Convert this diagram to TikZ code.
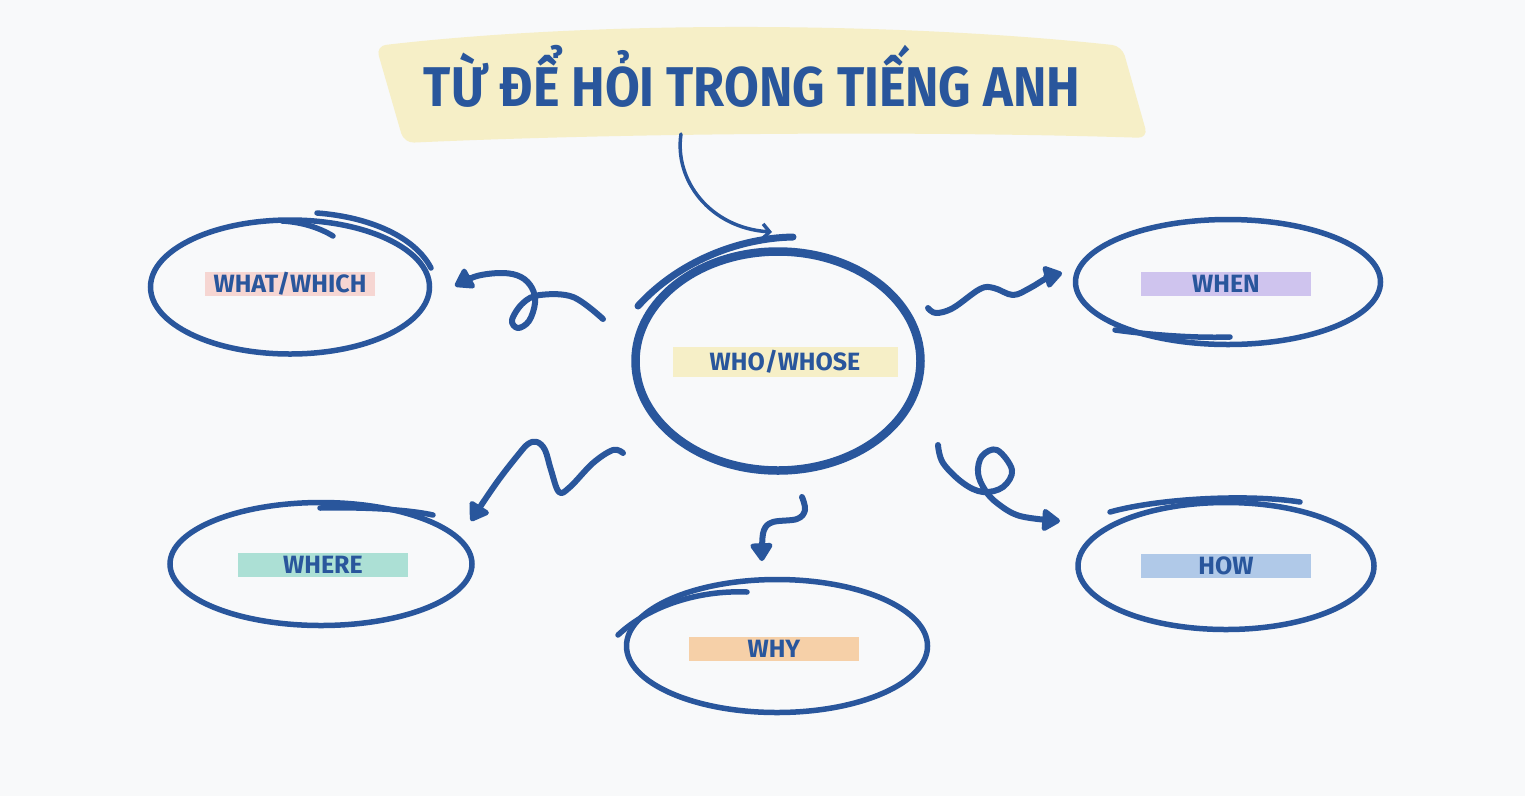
\documentclass[tikz,border=0pt]{standalone}
\usepackage{fontspec}
\usepackage{graphicx}
\setmainfont{Fira Sans}
\usetikzlibrary{shapes.geometric, arrows.meta}
\definecolor{ink}{RGB}{41,86,156}
\definecolor{paper}{RGB}{248,249,250}
\definecolor{bandtitle}{RGB}{246,239,199}
\definecolor{bandwho}{RGB}{246,239,199}
\definecolor{bandwhat}{RGB}{246,214,210}
\definecolor{bandwhere}{RGB}{172,224,213}
\definecolor{bandwhy}{RGB}{246,208,168}
\definecolor{bandwhen}{RGB}{207,196,238}
\definecolor{bandhow}{RGB}{176,201,232}
\tikzset{
  bubble/.style={ellipse, draw=ink, line width=5.5pt, inner sep=0pt},
  tag/.style={font=\bfseries\fontsize{25}{25}\selectfont, text=ink,
    minimum width=170pt, minimum height=24pt, inner sep=0pt},
  extra/.style={draw=ink, line width=5.5pt, line cap=round},
  link/.style={draw=ink, line width=6pt, line cap=round, line join=round,
    -{Triangle[length=20pt, width=25pt, round]}},
}
\begin{document}
\begin{tikzpicture}[x=1pt, y=-1pt]
      \useasboundingbox (0,0) rectangle (1525,796);
      \fill[paper] (0,0) rectangle (1525,796);
      %
      \fill[bandtitle, rounded corners=10pt] (376,46) .. controls (600,20) and (900,22) .. (1122,46)
        -- (1148,138) .. controls (900,130) and (600,134) .. (404,143) -- cycle;   % title band
      \node[anchor=base, font=\bfseries\fontsize{56}{56}\selectfont, text=ink] (title) at (752,106)
        {\scalebox{0.9}[1]{TỪ ĐỂ HỎI TRONG TIẾNG ANH}};
      %
      \node[bubble, line width=8.5pt, minimum width=285pt, minimum height=219pt] (who) at (778,361) {};   % centre
      \node[bubble, minimum width=279pt, minimum height=134pt] (what) at (290,287) {};
      \node[bubble, minimum width=302pt, minimum height=123pt] (where) at (321,564) {};
      \node[bubble, minimum width=301pt, minimum height=133pt] (why) at (777,646) {};
      \node[bubble, minimum width=305pt, minimum height=125pt] (when) at (1228,282) {};
      \node[bubble, minimum width=296pt, minimum height=127pt] (how) at (1226,566) {};
      %
      \draw[extra, line width=7pt] (638,306) .. controls (678,262) and (738,238) .. (793,237);   % second strokes
      \draw[extra] (317,213) .. controls (370,217) and (415,237) .. (431,268);
      \draw[extra] (282,221) .. controls (302,222) and (320,228) .. (333,236);
      \draw[extra] (320,508) .. controls (370,507) and (410,510) .. (433,515);
      \draw[extra] (618,635) .. controls (650,605) and (700,590) .. (747,592);
      \draw[extra] (1115,330) .. controls (1160,336) and (1200,338) .. (1230,337);
      \draw[extra] (1110,512) .. controls (1160,498) and (1250,494) .. (1300,502);
      %
      \node[tag, fill=bandwho, minimum width=225pt, minimum height=30pt] (whotag) at (785,362) {WHO/WHOSE};   % labels
      \node[tag, fill=bandwhat] (whattag) at (290,284) {WHAT/WHICH};
      \node[tag, fill=bandwhere] (wheretag) at (323,565) {WHERE};
      \node[tag, fill=bandwhy] (whytag) at (774,649) {WHY};
      \node[tag, fill=bandwhen] (whentag) at (1226,284) {WHEN};
      \node[tag, fill=bandhow] (howtag) at (1226,566) {HOW};
      %
      \coordinate (title-out) at (681,134);   % connector ends
      \coordinate (who-in) at (772,232);
      \coordinate (who-what) at (603,319);
      \coordinate (what-in) at (455,286);
      \coordinate (who-where) at (623,453);
      \coordinate (where-in) at (471,521);
      \coordinate (who-why) at (802,497);
      \coordinate (why-in) at (762,561);
      \coordinate (who-when) at (928,308);
      \coordinate (when-in) at (1062,273);
      \coordinate (who-how) at (938,445);
      \coordinate (how-in) at (1060,521);
      %
      \draw[link, line width=3.5pt, -{Straight Barb[length=7pt, width=15pt]}] (title-out)
        .. controls (674,180) and (710,228) .. (who-in);
      \draw[link] plot[smooth, tension=0.6] coordinates {(who-what) (573,297) (540,295) (523,303)
        (512,320) (518,328) (529,321) (535,303) (532,288) (521,277) (503,273) (477,276) (what-in)};
      \draw[link] plot[smooth, tension=0.6] coordinates {(who-where) (613,450) (593,463) (570,487)
        (559,492) (551,470) (545,450) (537,442) (528,444) (518,455) (500,478) (484,501) (where-in)};
      \draw[link] plot[smooth, tension=0.6] coordinates {(who-why) (805,510) (797,519) (773,522)
        (764,530) (762,547) (why-in)};
      \draw[link] plot[smooth, tension=0.6] coordinates {(who-when) (936,313) (953,308) (980,289)
        (994,288) (1013,295) (1030,288) (1047,278) (when-in)};
      \draw[link] plot[smooth, tension=0.6] coordinates {(who-how) (943,463) (963,483) (983,492)
        (1003,487) (1012,470) (997,450) (982,456) (978,473) (985,490) (997,503) (1020,516) (how-in)};
      %
\end{tikzpicture}
\end{document}
